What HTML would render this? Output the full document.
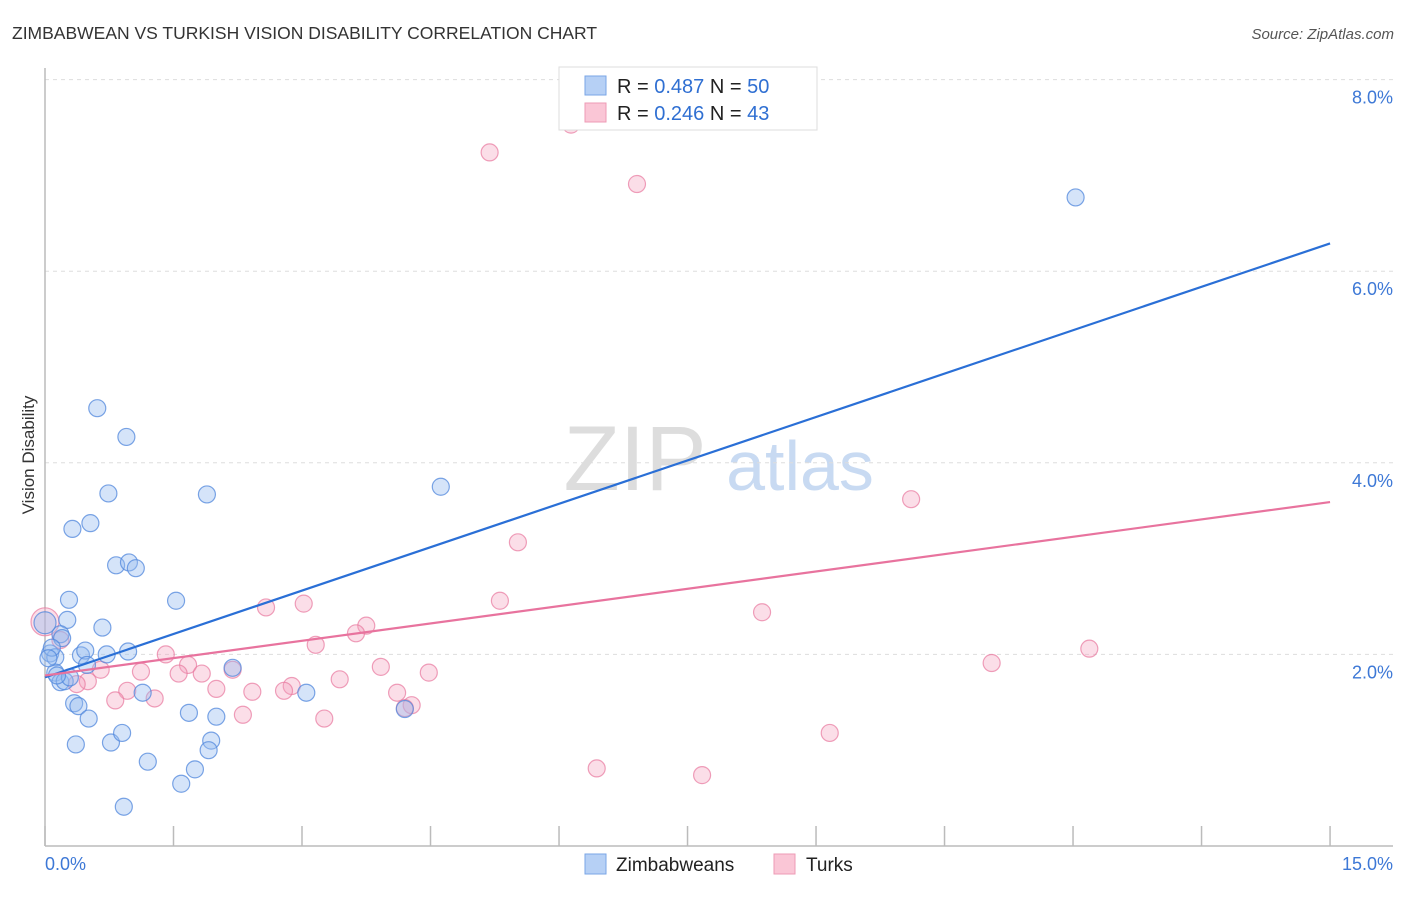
<!DOCTYPE html>
<html><head><meta charset="utf-8"><style>
body{margin:0;background:#fff;font-family:"Liberation Sans",sans-serif;}
svg text{font-family:"Liberation Sans",sans-serif;}
</style></head><body>
<svg width="1406" height="892" viewBox="0 0 1406 892">
<text x="12" y="39" font-size="17.5" fill="#333">ZIMBABWEAN VS TURKISH VISION DISABILITY CORRELATION CHART</text>
<text x="1394" y="39" font-size="15" fill="#555" text-anchor="end" font-style="italic">Source: ZipAtlas.com</text>
<text x="34" y="455" font-size="17" fill="#333" transform="rotate(-90 34 455)" text-anchor="middle">Vision Disability</text>
<g><text x="635" y="490" font-size="92" fill="#ddd" text-anchor="middle" font-family="Liberation Serif">ZIP</text><text x="800" y="490" font-size="70" fill="#c8daf2" text-anchor="middle">atlas</text></g>
<g id="grid"></g><g id="axes"></g><g id="pts"></g><g id="lines"></g>
<g>
<rect x="559" y="67" width="258" height="63" fill="#fff" stroke="#ddd"/>
<rect x="585" y="76" width="21" height="19" fill="#b6d0f5" stroke="#7aa6e6"/>
<rect x="585" y="103" width="21" height="19" fill="#fac6d6" stroke="#ee9bb5"/>
<text x="617" y="93" font-size="20" fill="#222">R = <tspan fill="#2f6fd2">0.487</tspan>   N = <tspan fill="#2f6fd2">50</tspan></text>
<text x="617" y="120" font-size="20" fill="#222">R = <tspan fill="#2f6fd2">0.246</tspan>   N = <tspan fill="#2f6fd2"> 43</tspan></text>
</g>
<g>
<rect x="585" y="854" width="21" height="20" fill="#b6d0f5" stroke="#7aa6e6"/>
<text x="616" y="871" font-size="19" fill="#222">Zimbabweans</text>
<rect x="774" y="854" width="21" height="20" fill="#fac6d6" stroke="#ee9bb5"/>
<text x="806" y="871" font-size="19" fill="#222">Turks</text>
</g>
</svg>
<script>
const blueX=[0.61,0.95,0.74,1.89,0.32,0.53,0.83,0.98,1.06,0.28,1.53,0.26,0.67,0.18,0.20,0.06,0.12,0.42,0.47,0.72,0.97,0.49,0.12,0.18,0.23,0.29,2.19,0.34,0.39,0.51,1.68,2.00,3.05,1.14,0.36,0.77,0.90,1.94,1.91,1.20,1.75,1.59,0.92,4.20,4.62,12.03,0.0,0.08,0.04,0.14];
const blueY=[4.57,4.27,3.68,3.67,3.31,3.37,2.93,2.96,2.90,2.57,2.56,2.36,2.28,2.21,2.17,2.01,1.97,1.99,2.04,2.00,2.03,1.89,1.81,1.71,1.72,1.76,1.86,1.49,1.46,1.33,1.39,1.35,1.60,1.60,1.06,1.08,1.18,1.10,1.00,0.88,0.80,0.65,0.41,1.43,3.75,6.77,2.33,2.07,1.96,1.78];
const pinkX=[6.14,5.19,6.91,10.11,5.52,5.31,8.37,2.58,3.02,3.75,3.63,3.16,1.41,1.67,2.19,3.92,4.48,12.19,11.05,1.12,1.56,1.83,0.65,0.50,0.37,3.44,2.88,0.96,2.00,2.42,2.79,4.11,1.28,0.82,4.28,2.31,3.26,9.16,6.44,7.67,0.18,0.0,4.20];
const pinkY=[7.53,7.24,6.91,3.62,3.17,2.56,2.44,2.49,2.53,2.30,2.22,2.10,2.00,1.89,1.84,1.87,1.81,2.06,1.91,1.82,1.80,1.80,1.84,1.72,1.69,1.74,1.67,1.62,1.64,1.61,1.62,1.60,1.54,1.52,1.47,1.37,1.33,1.18,0.81,0.74,2.15,2.34,1.44];
const yTicks=[2,4,6,8];
const yTickLabels=["2.0%","4.0%","6.0%","8.0%"];
const xTicks=[0,1.5,3,4.5,6,7.5,9,10.5,12,13.5,15];
const blueLine=[1.76,6.29];
const pinkLine=[1.78,3.59];
const NS="http://www.w3.org/2000/svg";
const sx=v=>45+v*85.67, sy=v=>846-v*95.8;
function mk(p,t,a){const e=document.createElementNS(NS,t);for(const k in a)e.setAttribute(k,a[k]);document.getElementById(p).appendChild(e);return e;}
yTicks.forEach((t,i)=>{
 const l=mk('grid','line',{x1:45,x2:1393,y1:sy(t),y2:sy(t),stroke:'#ddd','stroke-dasharray':'4,4'});
 
 
 const tx=mk('grid','text',{x:1393,y:sy(t)+24,'font-size':18,fill:'#3d78d6','text-anchor':'end'});
 tx.textContent=yTickLabels[i];
 
 
});
let ax=mk('axes','line',{x1:45,x2:45,y1:68,y2:846,stroke:'#bbb','stroke-width':1.5});


ax=mk('axes','line',{x1:45,x2:1393,y1:846,y2:846,stroke:'#bbb','stroke-width':1.5});


xTicks.forEach(t=>{const l=mk('axes','line',{x1:sx(t),x2:sx(t),y1:826,y2:846,stroke:'#bbb','stroke-width':1.5});
 
 });
let xl=mk('axes','text',{x:45,y:870,'font-size':18,fill:'#3d78d6'});xl.textContent='0.0%';


xl=mk('axes','text',{x:1393,y:870,'font-size':18,fill:'#3d78d6','text-anchor':'end'});xl.textContent='15.0%';


pinkX.forEach((x,i)=>{const r=(x===0)?14:8.5;const c=mk('pts','circle',{cx:sx(x),cy:sy(pinkY[i]),r:r,fill:'rgba(244,160,188,0.35)',stroke:'rgba(232,120,158,0.7)','stroke-width':1.2});
 
 });
blueX.forEach((x,i)=>{const r=(x===0)?11:8.5;const c=mk('pts','circle',{cx:sx(x),cy:sy(blueY[i]),r:r,fill:'rgba(150,188,240,0.4)',stroke:'rgba(80,135,220,0.75)','stroke-width':1.2});
 
 });
let ln=mk('lines','line',{x1:sx(0),x2:sx(15),y1:sy(blueLine[0]),y2:sy(blueLine[1]),stroke:'#2a6fd6','stroke-width':2.2});


ln=mk('lines','line',{x1:sx(0),x2:sx(15),y1:sy(pinkLine[0]),y2:sy(pinkLine[1]),stroke:'#e8739e','stroke-width':2.2});


</script>
</body></html>
